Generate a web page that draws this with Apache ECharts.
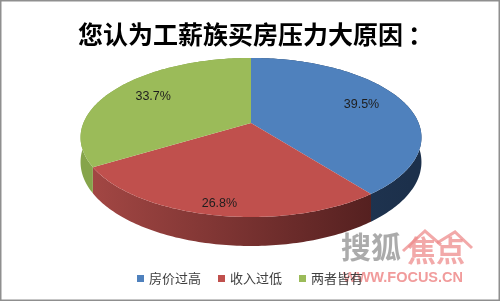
<!DOCTYPE html>
<html>
<head>
<meta charset="utf-8">
<title>您认为工薪族买房压力大原因</title>
<script src="https://cdn.jsdelivr.net/npm/echarts@6/dist/echarts.min.js"></script>
<style>
  html, body { margin: 0; padding: 0; background: #fff; }
  #chart { width: 500px; height: 301px; }
</style>
</head>
<body>
<div id="chart"></div>
<script>
// Survey data: share of answers per reason (percent)
const categories = ['房价过高', '收入过低', '两者皆有'];
const shares = [39.5, 26.8, 33.7];

// Colours: top faces, and left/right shades of the rim
const topColors = ['#4f81bd', '#c0504d', '#9bbb59'];
const rimColors = [['#2b4568', '#1c304b'], ['#a34744', '#4a1b1b'], ['#86a44b', '#6f8c38']];
const labelRadius = [0.72, 0.9, 0.72];

// Tilted-disc projection (perspective, viewed from the front)
const CX = 251, CY = 123;   // projected centre of the disc
const RX = 167.6, RY = 76.9; // disc radii on screen
const K = 0.182;             // perspective strength
const DEPTH = 23.7;          // disc thickness

function project(theta, r, drop) {
  const u = r * Math.sin(theta), v = r * Math.cos(theta);
  const w = 1 + K * v;
  return [CX + RX * u / w, CY - RY * v / w + (drop || 0) / w];
}

const total = shares.reduce((a, b) => a + b, 0);
const starts = [];
shares.reduce((acc, s) => { starts.push(acc); return acc + s; }, 0);

function arc(t1, t2, drop) {
  const pts = [];
  const n = Math.max(2, Math.ceil((t2 - t1) / (Math.PI / 180)));
  for (let i = 0; i <= n; i++) pts.push(project(t1 + (t2 - t1) * i / n, 1, drop));
  return pts;
}

function makeRender(idx) {
  return function (params, api) {
    const start = api.value(0), val = api.value(1);
    const t1 = start / total * Math.PI * 2;
    const t2 = (start + val) / total * Math.PI * 2;
    const topArc = arc(t1, t2, 0);
    const botArc = arc(t1, t2, DEPTH).reverse();
    const mid = (t1 + t2) / 2;
    const lp = project(mid, labelRadius[idx], 0);
    return {
      type: 'group',
      children: [
        {
          type: 'polygon', z2: 1,
          shape: { points: topArc.concat(botArc) },
          style: {
            fill: new echarts.graphic.LinearGradient(90, 0, 410, 0, [
              { offset: 0, color: rimColors[idx][0] },
              { offset: 1, color: rimColors[idx][1] }
            ], true)
          }
        },
        {
          type: 'polygon', z2: 10,
          shape: { points: [[CX, CY]].concat(topArc) },
          style: { fill: topColors[idx] }
        },
        {
          type: 'text', z2: 20,
          x: lp[0] + 1, y: lp[1] - 1,
          style: {
            text: val.toFixed(1) + '%',
            fill: '#1e1e1e',
            font: '12.5px "Liberation Sans", Arial, sans-serif',
            align: 'center', verticalAlign: 'middle'
          }
        }
      ]
    };
  };
}

const chart = echarts.init(document.getElementById('chart'), null, { renderer: 'canvas' });

chart.setOption({
  animation: false,
  backgroundColor: '#ffffff',
  title: {
    text: '您认为工薪族买房压力大原因\u2009：',
    left: 73, top: 17,
    textStyle: { fontSize: 25, fontWeight: 'bold', color: '#000', fontFamily: '"Noto Sans CJK SC", sans-serif' }
  },
  legend: {
    data: categories,
    left: 132, top: 267,
    icon: 'rect', itemWidth: 7, itemHeight: 7, itemGap: 17,
    textStyle: { fontSize: 13, color: '#404040', fontFamily: '"Noto Sans CJK SC", sans-serif' }
  },
  series: categories.map((name, i) => ({
    type: 'custom',
    name: name,
    coordinateSystem: 'none',
    itemStyle: { color: topColors[i] },
    data: [[starts[i], shares[i]]],
    renderItem: makeRender(i)
  })),
  graphic: [
    {
      type: 'rect', silent: true, z: 100,
      shape: { x: 0.75, y: 0.75, width: 498.5, height: 299.5 },
      style: { fill: 'none', stroke: '#8f8f8f', lineWidth: 1.5 }
    },
    // site watermark
    {
      type: 'group', silent: true, z: 90,
      children: [
        { type: 'text', x: 341, y: 232,
          style: { text: '搜狐', fill: 'rgba(150,150,150,0.8)', font: 'bold 30px "Noto Sans CJK SC", sans-serif' } },
        { type: 'text', x: 407, y: 236,
          style: { text: '焦点', fill: 'rgba(238,140,140,0.75)', font: 'bold 29px "Noto Sans CJK SC", sans-serif' } },
        { type: 'polyline',
          shape: { points: [[403, 251], [425, 231], [441, 245]] },
          style: { stroke: 'rgba(238,140,140,0.75)', lineWidth: 3, fill: 'none' } },
        { type: 'polyline',
          shape: { points: [[437, 243], [455, 232], [472, 248]] },
          style: { stroke: 'rgba(238,140,140,0.75)', lineWidth: 3, fill: 'none' } },
        { type: 'text', x: 343, y: 270,
          style: { text: 'WWW.FOCUS.CN', fill: 'rgba(238,130,130,0.8)', font: 'bold 14.5px "Liberation Sans", Arial, sans-serif' } }
      ]
    }
  ]
});
</script>
</body>
</html>
